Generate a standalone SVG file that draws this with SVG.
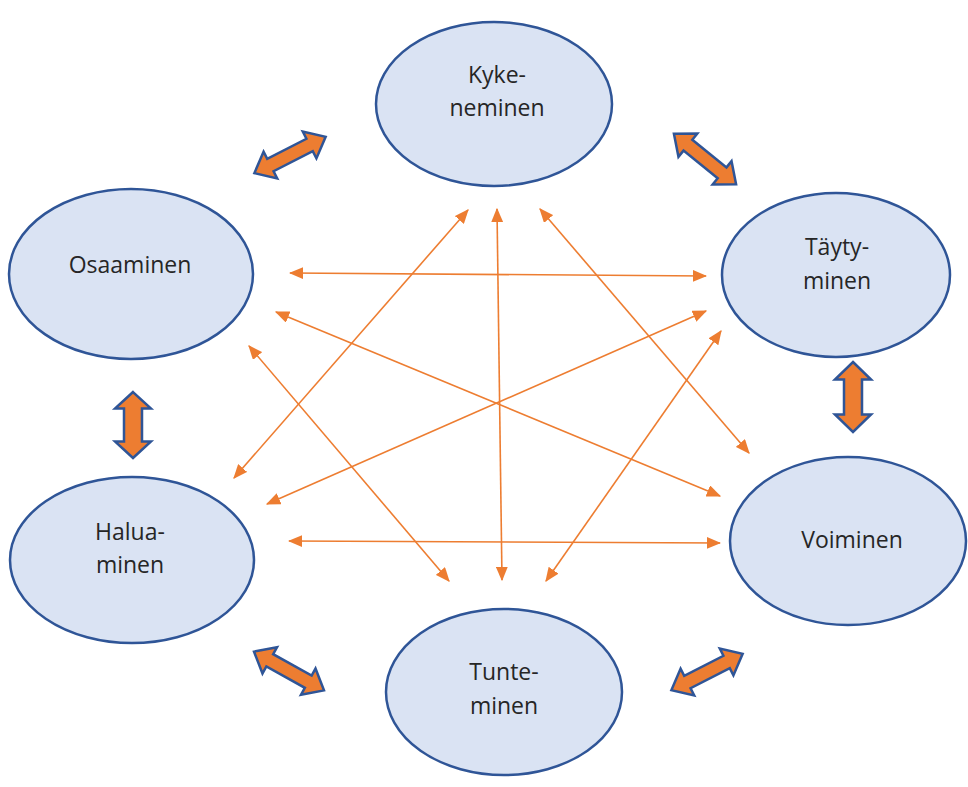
<svg xmlns="http://www.w3.org/2000/svg" width="968" height="787" viewBox="0 0 968 787">
  <style>
    .node ellipse { fill: #DAE3F3; stroke: #2F5597; stroke-width: 2.5; }
    .node text { font-family: "Open Sans", "Liberation Sans", sans-serif; font-size: 23px; fill: #262626; text-anchor: middle; }
    .conn line { stroke: #ED7D31; stroke-width: 1.6; marker-start: url(#ah); marker-end: url(#ah); }
    .block { fill: #ED7D31; stroke: #2F5597; stroke-width: 2.5; stroke-linejoin: miter; }
  </style>
  <defs>
    <marker id="ah" viewBox="0 0 12 10" refX="11" refY="5" markerWidth="9" markerHeight="7.5" markerUnits="strokeWidth" orient="auto-start-reverse">
      <path d="M0,0 L12,5 L0,10 Z" fill="#ED7D31"/>
    </marker>
    <polygon id="diag" points="-40,0 -22,-15 -22,-7 22,-7 22,-15 40,0 22,15 22,7 -22,7 -22,15"/>
    <polygon id="vert" points="0,-34 18,-17 9,-17 9,17 18,17 0,34 -18,17 -9,17 -9,-17 -18,-17"/>
  </defs>

  <rect width="968" height="787" fill="#FFFFFF"/>

  <g id="connectors" class="conn">
    <line x1="290" y1="273" x2="706" y2="276"/>
    <line x1="289" y1="541" x2="720" y2="543"/>
    <line x1="497" y1="209" x2="502" y2="580"/>
    <line x1="468" y1="210" x2="234" y2="478"/>
    <line x1="540" y1="209" x2="749" y2="453"/>
    <line x1="276" y1="312" x2="720" y2="496"/>
    <line x1="249" y1="346" x2="449" y2="581"/>
    <line x1="706" y1="311" x2="267" y2="504"/>
    <line x1="721" y1="331" x2="546" y2="581"/>
  </g>

  <g id="block-arrows">
    <use href="#diag" class="block" transform="translate(290,155) rotate(-27)"/>
    <use href="#diag" class="block" transform="translate(705,159) rotate(39)"/>
    <use href="#vert" class="block" transform="translate(133,425) scale(1,0.97)"/>
    <use href="#vert" class="block" transform="translate(853,397) scale(1,1.03)"/>
    <use href="#diag" class="block" transform="translate(289,671) rotate(29)"/>
    <use href="#diag" class="block" transform="translate(707,672) rotate(-27)"/>
  </g>

  <g id="kykeneminen" class="node">
    <ellipse cx="494" cy="104" rx="118" ry="82"/>
    <text x="497" y="83">Kyke-</text>
    <text x="497" y="116">neminen</text>
  </g>
  <g id="osaaminen" class="node">
    <ellipse cx="131" cy="274" rx="122" ry="85"/>
    <text x="130" y="273">Osaaminen</text>
  </g>
  <g id="taytyminen" class="node">
    <ellipse cx="836" cy="275" rx="114" ry="82"/>
    <text x="837" y="255">Täyty-</text>
    <text x="837" y="289">minen</text>
  </g>
  <g id="haluaminen" class="node">
    <ellipse cx="132" cy="560" rx="122" ry="83"/>
    <text x="130" y="540">Halua-</text>
    <text x="130" y="573">minen</text>
  </g>
  <g id="voiminen" class="node">
    <ellipse cx="848" cy="541" rx="118" ry="84"/>
    <text x="852" y="548">Voiminen</text>
  </g>
  <g id="tunteminen" class="node">
    <ellipse cx="504" cy="692" rx="118" ry="83"/>
    <text x="504" y="680">Tunte-</text>
    <text x="504" y="714">minen</text>
  </g>
</svg>
